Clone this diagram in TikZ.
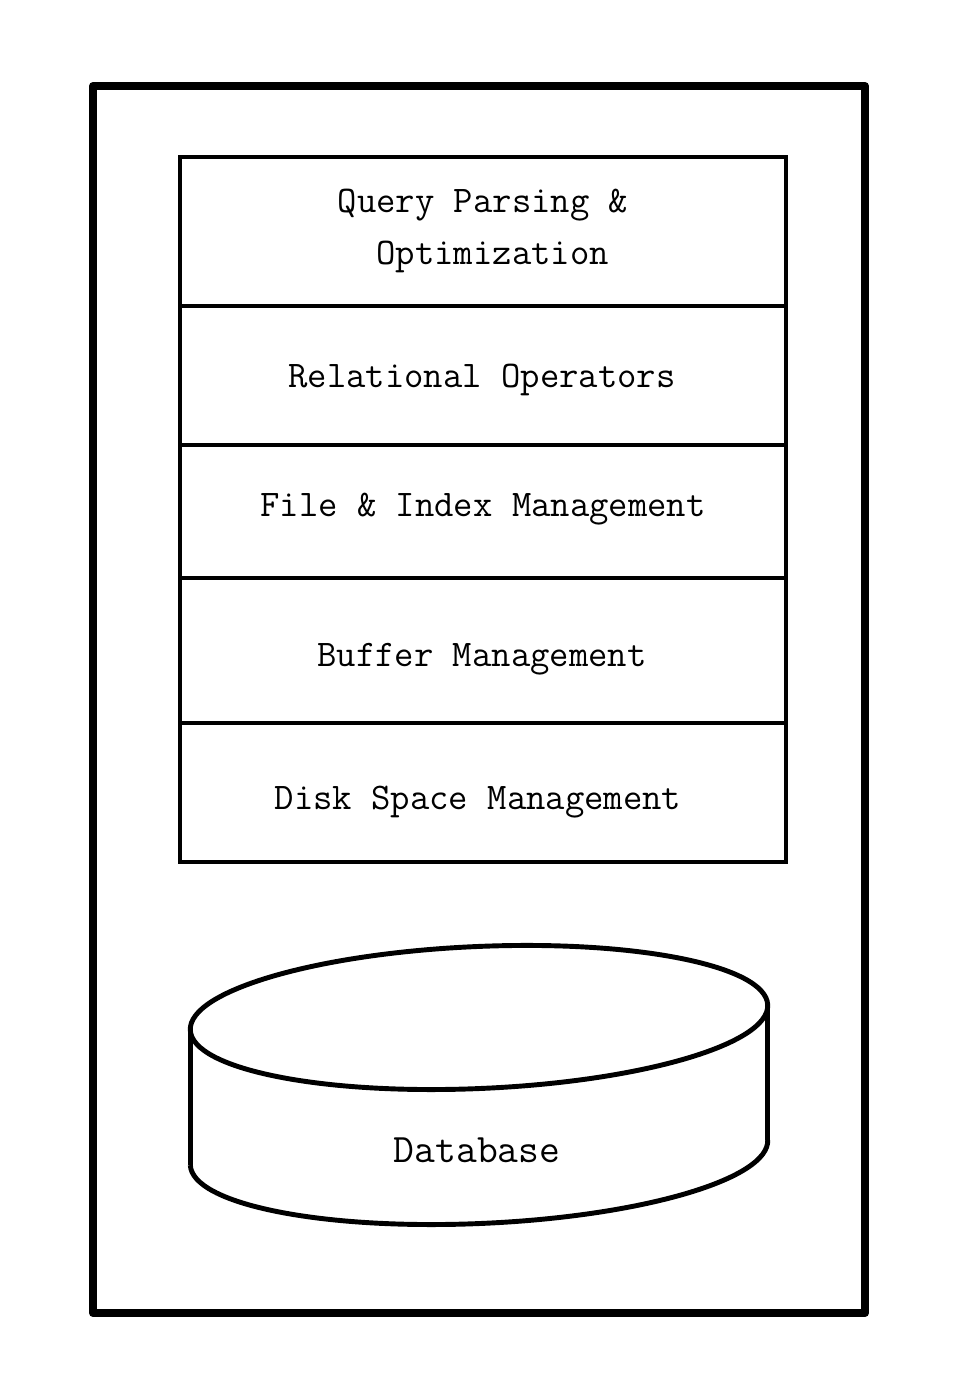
\documentclass[tikz,border=0pt]{standalone}
\usepackage{tikz}
\usetikzlibrary{positioning}

\begin{document}
\begin{tikzpicture}[
    x=0.02cm,y=0.02cm,
    frame/.style={draw,line width=4.5pt,line join=round},
    stack/.style={draw,line width=2.3pt},
    disk/.style={draw,line width=2.8pt},
    label/.style={font=\ttfamily\fontsize{21.4}{30}\selectfont,align=center,inner sep=0pt}
]
\useasboundingbox (0,0) rectangle (965,1396);

% Outer frame
\draw[frame] (93,83) rectangle (865,1310);

% Layer stack
\draw[stack] (180,534) rectangle (786,1239);
\foreach \y in {1090,951,818,673}
    \draw[stack] (180,\y) -- (786,\y);

\node[label] (qpo) at (483,1165) {Query Parsing \&\\\ Optimization};
\node[label] (relop) at (482,1016) {Relational Operators};
\node[label] (fim) at (483,887) {File \& Index Management};
\node[label] (bufm) at (482,737) {Buffer Management};
\node[label] (dsm) at (478,594) {Disk Space Management};

% Database cylinder
\begin{scope}[shift={(479,378.5)},rotate=2.5]
    \coordinate (topL) at (-289,0);
    \coordinate (topR) at (289,0);
    \draw[disk] (0,0) ellipse [x radius=289,y radius=71];
\end{scope}
\begin{scope}[shift={(479,243.5)},rotate=2.5]
    \coordinate (botL) at (-289,0);
    \coordinate (botR) at (289,0);
    \draw[disk] (botL) arc [start angle=180,end angle=360,x radius=289,y radius=71];
\end{scope}
\draw[disk] (topL) -- (botL);
\draw[disk] (topR) -- (botR);

\node[label,font=\ttfamily\fontsize{23}{30}\selectfont] (db) at (477,246) {Database};

\end{tikzpicture}
\end{document}
